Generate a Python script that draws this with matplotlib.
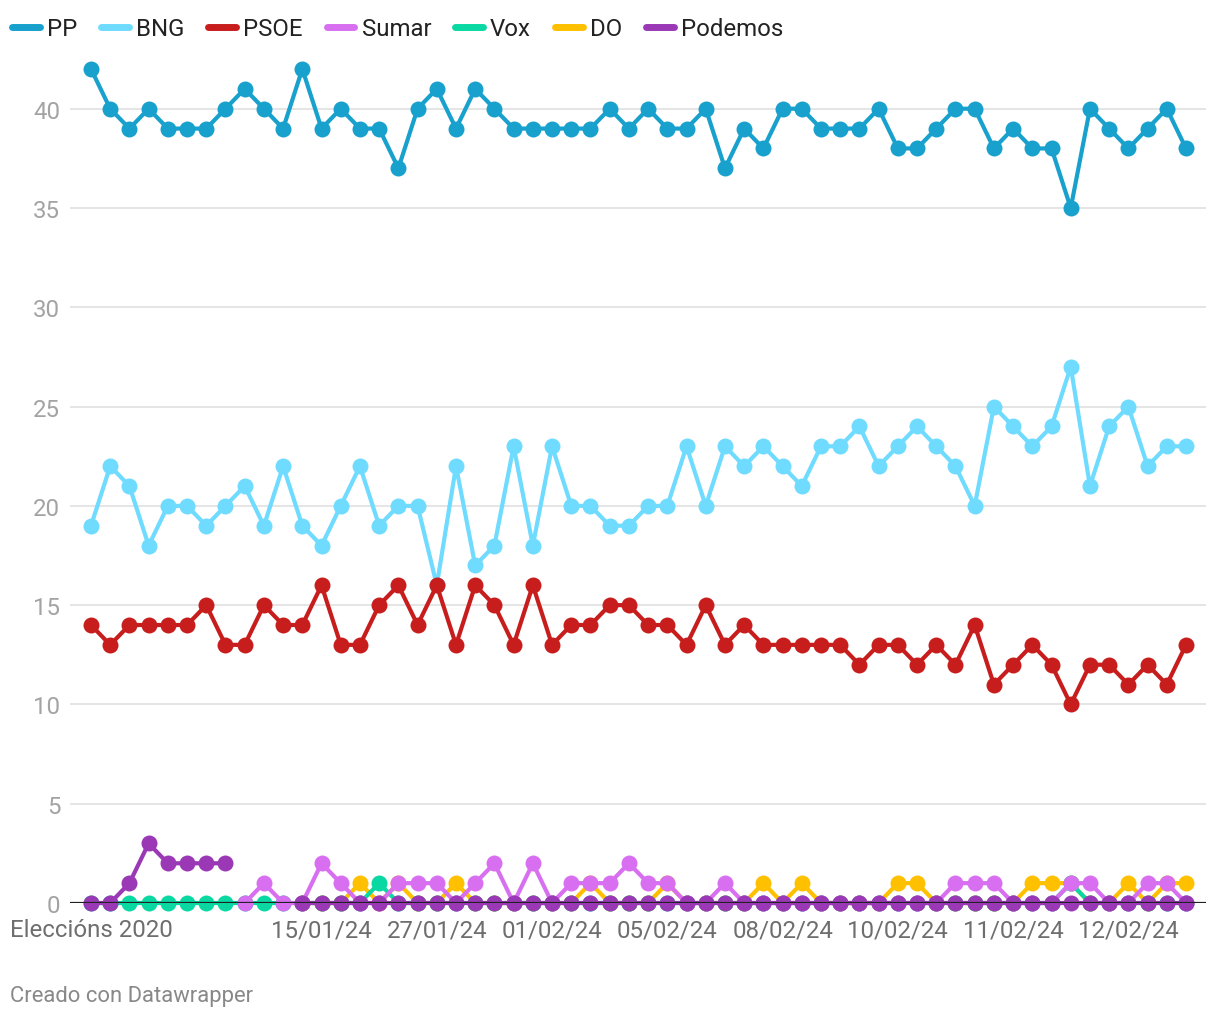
import numpy as np
import matplotlib
matplotlib.use("Agg")
from matplotlib import pyplot as plt
from matplotlib.lines import Line2D

plt.rcParams['font.family'] = ['Roboto', 'DejaVu Sans']

nan = np.nan

# x labels (only some positions are labelled)
tick_pos = [0, 12, 18, 24, 30, 36, 42, 48, 54]
tick_labels = ["Eleccións 2020", "15/01/24", "27/01/24", "01/02/24", "05/02/24",
               "08/02/24", "10/02/24", "11/02/24", "12/02/24"]

pp = [42, 40, 39, 40, 39, 39, 39, 40, 41, 40,
      39, 42, 39, 40, 39, 39, 37, 40, 41, 39,
      41, 40, 39, 39, 39, 39, 39, 40, 39, 40,
      39, 39, 40, 37, 39, 38, 40, 40, 39, 39,
      39, 40, 38, 38, 39, 40, 40, 38, 39, 38,
      38, 35, 40, 39, 38, 39, 40, 38]
bng = [19, 22, 21, 18, 20, 20, 19, 20, 21, 19,
       22, 19, 18, 20, 22, 19, 20, 20, 16, 22,
       17, 18, 23, 18, 23, 20, 20, 19, 19, 20,
       20, 23, 20, 23, 22, 23, 22, 21, 23, 23,
       24, 22, 23, 24, 23, 22, 20, 25, 24, 23,
       24, 27, 21, 24, 25, 22, 23, 23]
psoe = [14, 13, 14, 14, 14, 14, 15, 13, 13, 15,
        14, 14, 16, 13, 13, 15, 16, 14, 16, 13,
        16, 15, 13, 16, 13, 14, 14, 15, 15, 14,
        14, 13, 15, 13, 14, 13, 13, 13, 13, 13,
        12, 13, 13, 12, 13, 12, 14, 11, 12, 13,
        12, 10, 12, 12, 11, 12, 11, 13]
sumar = [nan, nan, nan, nan, nan, nan, nan, nan, 0, 1,
         0, 0, 2, 1, 0, 0, 1, 1, 1, 0,
         1, 2, 0, 2, 0, 1, 1, 1, 2, 1,
         1, 0, 0, 1, 0, 0, 0, 0, 0, 0,
         0, 0, 0, 0, 0, 1, 1, 1, 0, 0,
         0, 1, 1, 0, 0, 1, 1, 0]
vox = [0, 0, 0, 0, 0, 0, 0, 0, 0, 0,
       0, 0, 0, 0, 0, 1, 0, 0, 0, 0,
       0, 0, 0, 0, 0, 0, 0, 0, 0, 0,
       0, 0, 0, 0, 0, 0, 0, 0, 0, 0,
       0, 0, 0, 0, 0, 0, 0, 0, 0, 0,
       0, 1, 0, 0, 0, 0, 0, 0]
do = [nan, nan, nan, nan, nan, nan, nan, nan, nan, nan,
      nan, 0, 0, 0, 1, 0, 1, 0, 0, 1,
      0, 0, 0, 0, 0, 0, 1, 0, 0, 0,
      1, 0, 0, 0, 0, 1, 0, 1, 0, 0,
      0, 0, 1, 1, 0, 0, 0, 0, 0, 1,
      1, 1, 0, 0, 1, 0, 1, 1]
podemos = [0, 0, 1, 3, 2, 2, 2, 2, nan, nan,
           nan, 0, 0, 0, 0, 0, 0, 0, 0, 0,
           0, 0, 0, 0, 0, 0, 0, 0, 0, 0,
           0, 0, 0, 0, 0, 0, 0, 0, 0, 0,
           0, 0, 0, 0, 0, 0, 0, 0, 0, 0,
           0, 0, 0, 0, 0, 0, 0, 0]

names = ["PP", "BNG", "PSOE", "Sumar", "Vox", "DO", "Podemos"]
colors = ["#18a1cd", "#6fdbff", "#c71e1d", "#d86ff0", "#09d8a3", "#ffc000", "#9a38b6"]
series = [pp, bng, psoe, sumar, vox, do, podemos]
# stacking order seen in the picture (bottom -> top)
zorders = [3.0, 3.1, 3.2, 3.5, 3.4, 3.3, 3.6]

x = np.arange(len(pp))

fig = plt.figure(figsize=(12.2, 10.2), dpi=100)
ax = fig.add_axes([70 / 1220, 1 - 904 / 1020, (1206 - 70) / 1220, (904 - 70) / 1020])

for vals, c, z in zip(series, colors, zorders):
    ax.plot(x, vals, color=c, lw=3.0, marker='o', markersize=11.5,
            markeredgewidth=0, zorder=z, clip_on=False, solid_joinstyle='round')

ax.axhline(0, color='#222222', lw=1.6, zorder=10)

ax.set_xlim(-21 / 19.21, 57 + 20 / 19.21)
ax.set_ylim(0, 42)
ax.set_yticks([0, 5, 10, 15, 20, 25, 30, 35, 40])
ax.grid(True, axis='y', color='#e3e3e3', lw=1.3)
ax.set_axisbelow(True)
ax.set_xticks(tick_pos)
ax.set_xticklabels(tick_labels)
ax.tick_params(axis='x', length=0, pad=11, labelsize=17.3, labelcolor='#6e6e6e')
ax.tick_params(axis='y', length=0, pad=7, labelsize=17.3, labelcolor='#a3a3a3')
for s in ax.spines.values():
    s.set_visible(False)

handles = [Line2D([0], [0], color=c, lw=5, solid_capstyle='round') for c in colors]
fig.legend(handles, names, loc='center left', bbox_to_anchor=(12 / 1220, 1 - 30 / 1020),
           ncol=7, frameon=False, fontsize=17.3, handlelength=1.15, handletextpad=0.3,
           columnspacing=1.0, borderpad=0, borderaxespad=0, labelcolor='#222222')

fig.text(10 / 1220, 1 - 997 / 1020, "Creado con Datawrapper", fontsize=15.8,
         color='#888888', va='center', ha='left')

fig.savefig("out.png", dpi=100)
